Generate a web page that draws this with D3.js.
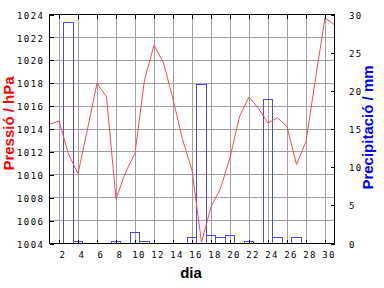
<!DOCTYPE html>
<html>
<head>
<meta charset="utf-8">
<script src="https://cdn.jsdelivr.net/npm/d3@7"></script>
<style>
  html, body { margin: 0; padding: 0; background: #fff; }
  svg { display: block; }
  .title { font-family: "Liberation Sans", Arial, sans-serif; font-size: 15px; font-weight: bold; }
</style>
</head>
<body>
<div id="chart"></div>
<script>
// days of the month and daily pressure (hPa)
const days = d3.range(1, 32);
const pressure = [
  1014.4, 1014.7, 1011.8, 1010.1, 1014.0, 1018.0, 1016.8, 1007.9, 1010.2, 1011.9,
  1018.3, 1021.3, 1019.8, 1016.6, 1013.1, 1010.4, 1004.1, 1007.2, 1008.8, 1011.5,
  1015.1, 1016.8, 1015.8, 1014.5, 1015.0, 1014.2, 1010.9, 1012.9, 1018.4, 1023.7,
  1023.1
];
// daily precipitation (mm), only days with rain
const rainDays = [3, 4, 8, 10, 11, 16, 17, 18, 19, 20, 22, 24, 25, 27];
const rainMm   = [29.0, 0.3, 0.3, 1.4, 0.3, 0.8, 20.8, 1.0, 0.8, 1.1, 0.3, 18.9, 0.8, 0.8];

const xTicks  = d3.range(2, 31, 2);
const yTicks  = d3.range(1004, 1025, 2);
const y2Ticks = d3.range(0, 31, 5);

const W = 384, H = 288;
const pL = 49.5, pR = 334.5, pT = 14.5, pB = 243.5;

const svg = d3.select("#chart").append("svg").attr("width", W).attr("height", H);

const x  = d3.scaleLinear().domain([1, 31]).range([pL, pR]);
const y  = d3.scaleLinear().domain([1004, 1024]).range([pB, pT]);
const y2 = d3.scaleLinear().domain([0, 30]).range([pB, pT]);

// grid
const grid = svg.append("g").attr("stroke", "#a0a0a0").attr("stroke-width", 1).attr("shape-rendering", "crispEdges");
grid.selectAll(".vx").data(xTicks).enter().append("line")
  .attr("x1", d => x(d)).attr("x2", d => x(d)).attr("y1", pT).attr("y2", pB);
grid.selectAll(".hy").data(yTicks.slice(1, -1)).enter().append("line")
  .attr("x1", pL).attr("x2", pR).attr("y1", d => y(d)).attr("y2", d => y(d));

// precipitation bars (outline only)
const bw = x(2) - x(1);
svg.append("g").selectAll("rect").data(rainDays).enter().append("rect")
  .attr("x", d => x(d) - bw / 2)
  .attr("width", bw)
  .attr("y", (d, i) => y2(rainMm[i]))
  .attr("height", (d, i) => pB - y2(rainMm[i]))
  .attr("fill", "none").attr("stroke", "#4848ff").attr("stroke-width", 1)
  .attr("shape-rendering", "crispEdges");

// pressure line
const line = d3.line().x((d, i) => x(days[i])).y(d => y(d));
svg.append("path").datum(pressure)
  .attr("fill", "none").attr("stroke", "#ff4848").attr("stroke-width", 1)
  .attr("d", line);

// axes
function style(g) {
  g.select(".domain").remove();
  g.attr("font-family", null).attr("font-size", null);
  g.selectAll(".tick line").attr("stroke", "#000").attr("shape-rendering", "crispEdges");
  g.selectAll(".tick text")
    .style("font-family", "'DejaVu Sans Mono', monospace")
    .style("font-size", "9px")
    .style("letter-spacing", "1.4px")
    .attr("fill", "#000");
}
const fmt = d3.format("d");
svg.append("g").attr("transform", `translate(0,${pB})`)
  .call(d3.axisBottom(x).tickValues(xTicks).tickSize(-4).tickPadding(8.4).tickFormat(fmt))
  .call(style)
  .selectAll("text").attr("dx", 3.5);
svg.append("g").attr("transform", `translate(0,${pT})`)
  .call(d3.axisTop(x).tickValues(xTicks).tickSize(-4).tickFormat(""))
  .call(style);
svg.append("g").attr("transform", `translate(${pL},0)`)
  .call(d3.axisLeft(y).tickValues(yTicks).tickSize(-4).tickPadding(5.2).tickFormat(fmt))
  .call(style)
  .selectAll("text").attr("dy", "0.4em");
svg.append("g").attr("transform", `translate(${pR},0)`)
  .call(d3.axisRight(y2).tickValues(y2Ticks).tickSize(-4).tickPadding(14.5).tickFormat(fmt))
  .call(style)
  .selectAll("text").attr("dy", "0.4em");

// frame
svg.append("rect").attr("x", pL).attr("y", pT)
  .attr("width", pR - pL).attr("height", pB - pT)
  .attr("fill", "none").attr("stroke", "#000").attr("shape-rendering", "crispEdges");

// titles
svg.append("text").attr("class", "title").attr("x", 191).attr("y", 278)
  .attr("text-anchor", "middle").attr("fill", "#000").text("dia");
svg.append("text").attr("class", "title")
  .attr("transform", "translate(14,123.5) rotate(-90)")
  .attr("text-anchor", "middle").attr("fill", "#ff0000").text("Pressió / hPa");
svg.append("text").attr("class", "title")
  .attr("transform", "translate(373,127.5) rotate(-90)")
  .attr("text-anchor", "middle").attr("fill", "#0000ff").text("Precipitació / mm");
</script>
</body>
</html>
